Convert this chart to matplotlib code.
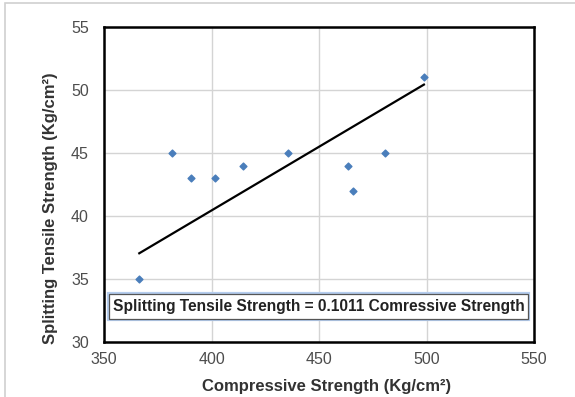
import matplotlib.pyplot as plt
from matplotlib.patches import Rectangle

# Data
compressive = [366.4, 381.4, 390.4, 401.5, 414.5, 435.8, 463.5, 465.7, 480.5, 498.8]
tensile = [35, 45, 43, 43, 44, 45, 44, 42, 45, 51]
slope = 0.1011
equation = 'Splitting Tensile Strength = 0.1011 Comressive Strength'

plt.rcParams['font.family'] = ['Liberation Sans', 'DejaVu Sans']

fig = plt.figure(figsize=(5.75, 3.97), dpi=100)
ax = fig.add_axes([0.1809, 0.1385, 0.7478, 0.7935])

# outer chart border (only left/top visible in the crop)
fig.patches.append(Rectangle((5 / 575, -0.1), 1.2, 1 - 3 / 397 + 0.1,
                             transform=fig.transFigure, fill=False,
                             edgecolor='#d0d0d0', linewidth=1.2))

ax.scatter(compressive, tensile, marker='D', s=12, color='#4a7ebb', zorder=3)

x_line = [min(compressive), max(compressive)]
y_line = [slope * v for v in x_line]
ax.plot(x_line, y_line, color='black', linewidth=1.6, zorder=3)

ax.set_xlim(350, 550)
ax.set_ylim(30, 55)
ax.set_xticks([350, 400, 450, 500, 550])
ax.set_yticks([30, 35, 40, 45, 50, 55])
ax.grid(True, color='#d4d4d4', linewidth=1.0)
ax.set_axisbelow(True)
ax.tick_params(length=0, labelsize=11.5, labelcolor='#4d4d4d')
ax.tick_params(axis='y', pad=11)
ax.tick_params(axis='x', pad=7)
for s in ax.spines.values():
    s.set_linewidth(1.8)
    s.set_color('black')

ax.set_xlabel('Compressive Strength (Kg/cm²)', fontsize=12, fontweight='bold', color='#333333')
ax.set_ylabel('Splitting Tensile Strength (Kg/cm²)', fontsize=12, fontweight='bold', color='#333333')
ax.xaxis.set_label_coords((327 - 104) / 430, -(386 - 342) / 315)
ax.yaxis.set_label_coords((50 - 104) / 430, (342 - 208) / 315)
ax.xaxis.label.set_va('center')
ax.yaxis.label.set_va('center')

# equation text box
bx0, bx1 = (109 - 104) / 430, (528 - 104) / 430
by0, by1 = (342 - 319) / 315, (342 - 294) / 315
ax.add_patch(Rectangle((bx0, by0), bx1 - bx0, by1 - by0, transform=ax.transAxes,
                       facecolor='white', edgecolor='#b5cdee', linewidth=3, zorder=4))
ax.add_patch(Rectangle((bx0, by0), bx1 - bx0, by1 - by0, transform=ax.transAxes,
                       facecolor='white', edgecolor='#555555', linewidth=0.9, zorder=5))
ax.text((bx0 + bx1) / 2, (by0 + by1) / 2, equation, transform=ax.transAxes,
        ha='center', va='center', fontsize=11.2, fontweight='bold', color='#222222', zorder=6)

fig.savefig('out.png', dpi=100)
